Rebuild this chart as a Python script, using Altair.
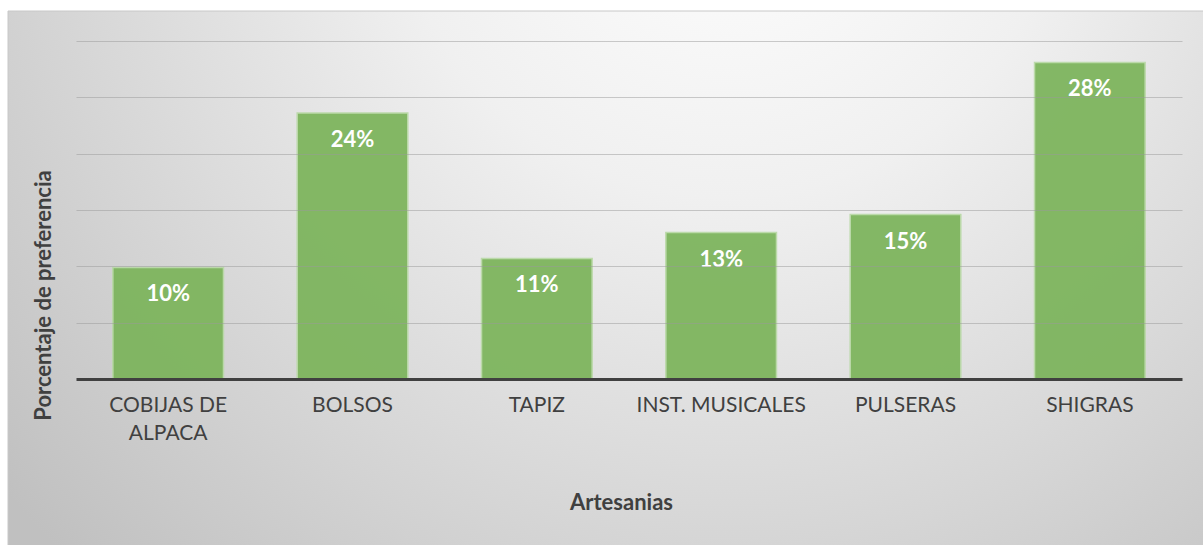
import altair as alt
import pandas as pd

categories = ["COBIJAS DE|ALPACA", "BOLSOS", "TAPIZ", "INST. MUSICALES", "PULSERAS", "SHIGRAS"]
values = [0.099, 0.236, 0.107, 0.130, 0.146, 0.281]
grid_values = [0.05, 0.10, 0.15, 0.20, 0.25, 0.30]

df = pd.DataFrame({"cat": categories, "value": values})

FONT = "Lato"
TXT = "#404040"

bg = alt.Chart(alt.Data(values=[{}])).mark_rect(
    color=alt.Gradient(
        gradient="radial",
        stops=[alt.GradientStop(color="#ffffff", offset=0),
               alt.GradientStop(color="#f0f0f0", offset=0.35),
               alt.GradientStop(color="#c0c0c0", offset=1)],
        x1=0.6, y1=0.15, r1=0, x2=0.6, y2=0.15, r2=0.8,
    ),
    stroke="#c8c8c8", strokeWidth=1,
).encode(
    x=alt.value(-68), x2=alt.value(1130), y=alt.value(-30), y2=alt.value(510)
)

xenc = alt.X("cat:N", sort=categories,
             scale=alt.Scale(paddingInner=0.4, paddingOuter=0.2),
             axis=alt.Axis(
                 title="Artesanias", labelAngle=0,
                 labelExpr="split(datum.label, '|')",
                 labelFont=FONT, labelFontSize=21, labelColor=TXT,
                 labelLineHeight=28, labelPadding=15, labelBaseline="top",
                 ticks=False, domainColor="#404040", domainWidth=3,
                 titleFont=FONT, titleFontSize=22, titleFontWeight="bold",
                 titleColor=TXT, titleX=545, titleY=130,
                 titleBaseline="alphabetic", titleAlign="center",
                 grid=False, zindex=1))

yenc = alt.Y("value:Q", scale=alt.Scale(domain=[0, 0.30], nice=False),
             axis=alt.Axis(
                 title="Porcentaje de preferencia", values=grid_values,
                 labels=False, ticks=False, domain=False,
                 grid=True, gridColor="#9a9a9a", gridOpacity=0.5, gridWidth=1.2,
                 titleFont=FONT, titleFontSize=22, titleFontWeight="bold",
                 titleColor=TXT, titleX=-33, titleY=254, titleAngle=-90,
                 titleAlign="center", titleBaseline="middle", zindex=1))

bars = alt.Chart(df).mark_bar(
    color="#7cb45b", opacity=0.93, stroke="#b9d9a6", strokeWidth=1.5
).encode(x=xenc, y=yenc)

labels = alt.Chart(df).mark_text(
    font=FONT, fontSize=22, fontWeight="bold", color="white",
    baseline="middle", dy=27
).encode(x=alt.X("cat:N", sort=categories), y="value:Q",
         text=alt.Text("value:Q", format=".0%"))

chart = alt.layer(bg, bars, labels).properties(
    width=1106, height=338,
    autosize=alt.AutoSizeParams(type="none"),
    padding={"left": 76, "top": 41, "right": 21, "bottom": 166},
    background="white",
).configure_view(stroke=None)

chart.save("out.html", embed_options={"renderer": "svg", "actions": False})
